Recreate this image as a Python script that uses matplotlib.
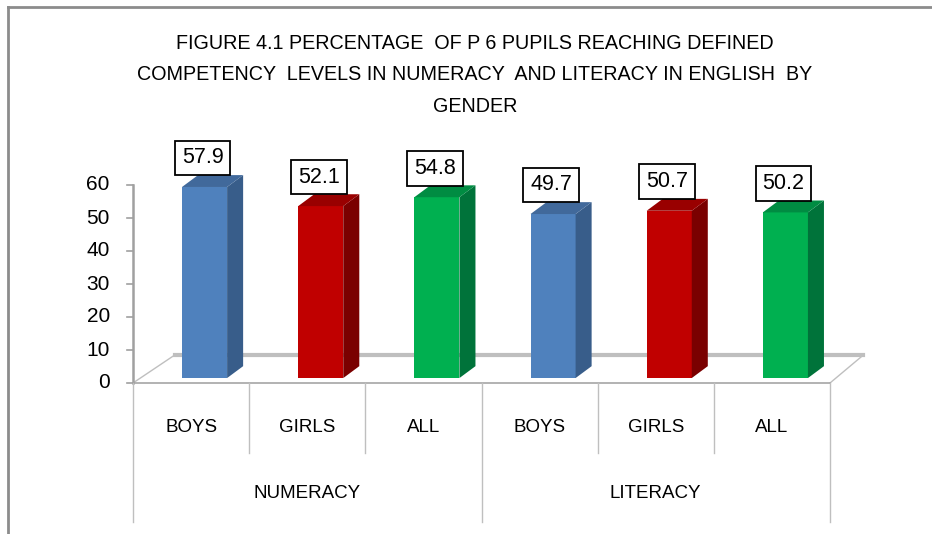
import matplotlib.pyplot as plt
from matplotlib.patches import Polygon
from matplotlib.lines import Line2D
import matplotlib.transforms as mtransforms

plt.rcParams['font.family'] = ['Liberation Sans', 'DejaVu Sans']

groups = ['NUMERACY', 'LITERACY']
categories = ['BOYS', 'GIRLS', 'ALL', 'BOYS', 'GIRLS', 'ALL']
values = [57.9, 52.1, 54.8, 49.7, 50.7, 50.2]
yticks = [0, 10, 20, 30, 40, 50, 60]
title = ('FIGURE 4.1 PERCENTAGE  OF P 6 PUPILS REACHING DEFINED\n'
         'COMPETENCY  LEVELS IN NUMERACY  AND LITERACY IN ENGLISH  BY\n'
         'GENDER')

# front, side, top colours for boys / girls / all
front = ['#4F81BD', '#C00000', '#00B050']
side = ['#385D8A', '#7A0000', '#00733A']
top = ['#41699B', '#990000', '#008C42']

W, H = 932, 534
fig = plt.figure(figsize=(W / 100, H / 100), dpi=100)
# plot area: x from -0.5..5.5 -> px 133..830, y 0..60 -> px 383..185
ax = fig.add_axes([133 / W, (H - 383) / H, 697 / W, 198 / H])
ax.set_xlim(-0.5, 5.5)
ax.set_ylim(0, 60)
ax.axis('off')

gray = '#BFBFBF'
# floor depth (data units)
fdx, fdy = 0.36, 8.5
floor = Polygon([(-0.5, 0), (5.5, 0), (5.5 + fdx * 0.8, fdy), (-0.5 + fdx, fdy)],
                closed=True, facecolor='white', edgecolor='none', clip_on=False, zorder=1)
ax.add_patch(floor)
ax.plot([-0.5 + fdx, 5.5 + fdx * 0.8], [fdy, fdy], color=gray, lw=3, clip_on=False, zorder=2)
ax.plot([-0.5, -0.5 + fdx], [0, fdy], color=gray, lw=1, clip_on=False, zorder=2)
ax.plot([5.5, 5.5 + fdx * 0.8], [0, fdy], color=gray, lw=1, clip_on=False, zorder=2)
ax.plot([-0.5, 5.5], [0, 0], color='#A6A6A6', lw=1.2, clip_on=False, zorder=2)

# y axis
ax.plot([-0.5, -0.5], [0, 60], color='#A0A0A0', lw=1.8, clip_on=False, zorder=2)
for t in yticks:
    ax.plot([-0.555, -0.5], [t, t], color='#A0A0A0', lw=1.2, clip_on=False, zorder=2)
    ax.text(-0.7, t, str(t), ha='right', va='center', fontsize=15, clip_on=False)

# bars
bx, hw = 0.116, 0.194     # front face shift and half width
sdx, sdy = 0.138, 3.6     # side depth
by = 1.5                  # front bottom lift
for i, v in enumerate(values):
    c = i % 3
    x0, x1 = i + bx - hw, i + bx + hw
    y0, y1 = by, by + v
    ax.add_patch(Polygon([(x0, y0), (x1, y0), (x1, y1), (x0, y1)], closed=True,
                         facecolor=front[c], edgecolor='none', clip_on=False, zorder=4))
    ax.add_patch(Polygon([(x1, y0), (x1 + sdx, y0 + sdy), (x1 + sdx, y1 + sdy), (x1, y1)],
                         closed=True, facecolor=side[c], edgecolor='none', clip_on=False, zorder=4))
    ax.add_patch(Polygon([(x0, y1), (x1, y1), (x1 + sdx, y1 + sdy), (x0 + sdx, y1 + sdy)],
                         closed=True, facecolor=top[c], edgecolor='none', clip_on=False, zorder=4))
    ax.text(i + 0.1, y1 + 8.8, f'{v:.1f}', ha='center', va='center', fontsize=15.5,
            zorder=6, clip_on=False,
            bbox=dict(boxstyle='square,pad=0.32', facecolor='white', edgecolor='black', lw=1.3))

# category axis below the floor
lab = mtransforms.blended_transform_factory(ax.transData, fig.transFigure)
for k in range(7):
    long_line = k % 3 == 0
    ylow = (H - 522) / H if long_line else (H - 453) / H
    fig.add_artist(Line2D([133 / W + k * 697 / W / 6] * 2, [(H - 383) / H, ylow],
                          color='#BFBFBF', lw=1))
for i, name in enumerate(categories):
    ax.text(i, (H - 428) / H, name, transform=lab, ha='center', va='center', fontsize=13.5)
for g, name in enumerate(groups):
    ax.text(1 + 3 * g, (H - 493) / H, name, transform=lab, ha='center', va='center', fontsize=13.5)

fig.text(475 / W, (H - 75) / H, title, ha='center', va='center', fontsize=14.2,
         linespacing=1.85)

# chart frame (top and left edges visible)
fig.add_artist(Line2D([8 / W, 8 / W], [0, (H - 7) / H], color='#8C8C8C', lw=2))
fig.add_artist(Line2D([8 / W, 1], [(H - 7) / H, (H - 7) / H], color='#8C8C8C', lw=2))

fig.savefig('out.png', dpi=100)
